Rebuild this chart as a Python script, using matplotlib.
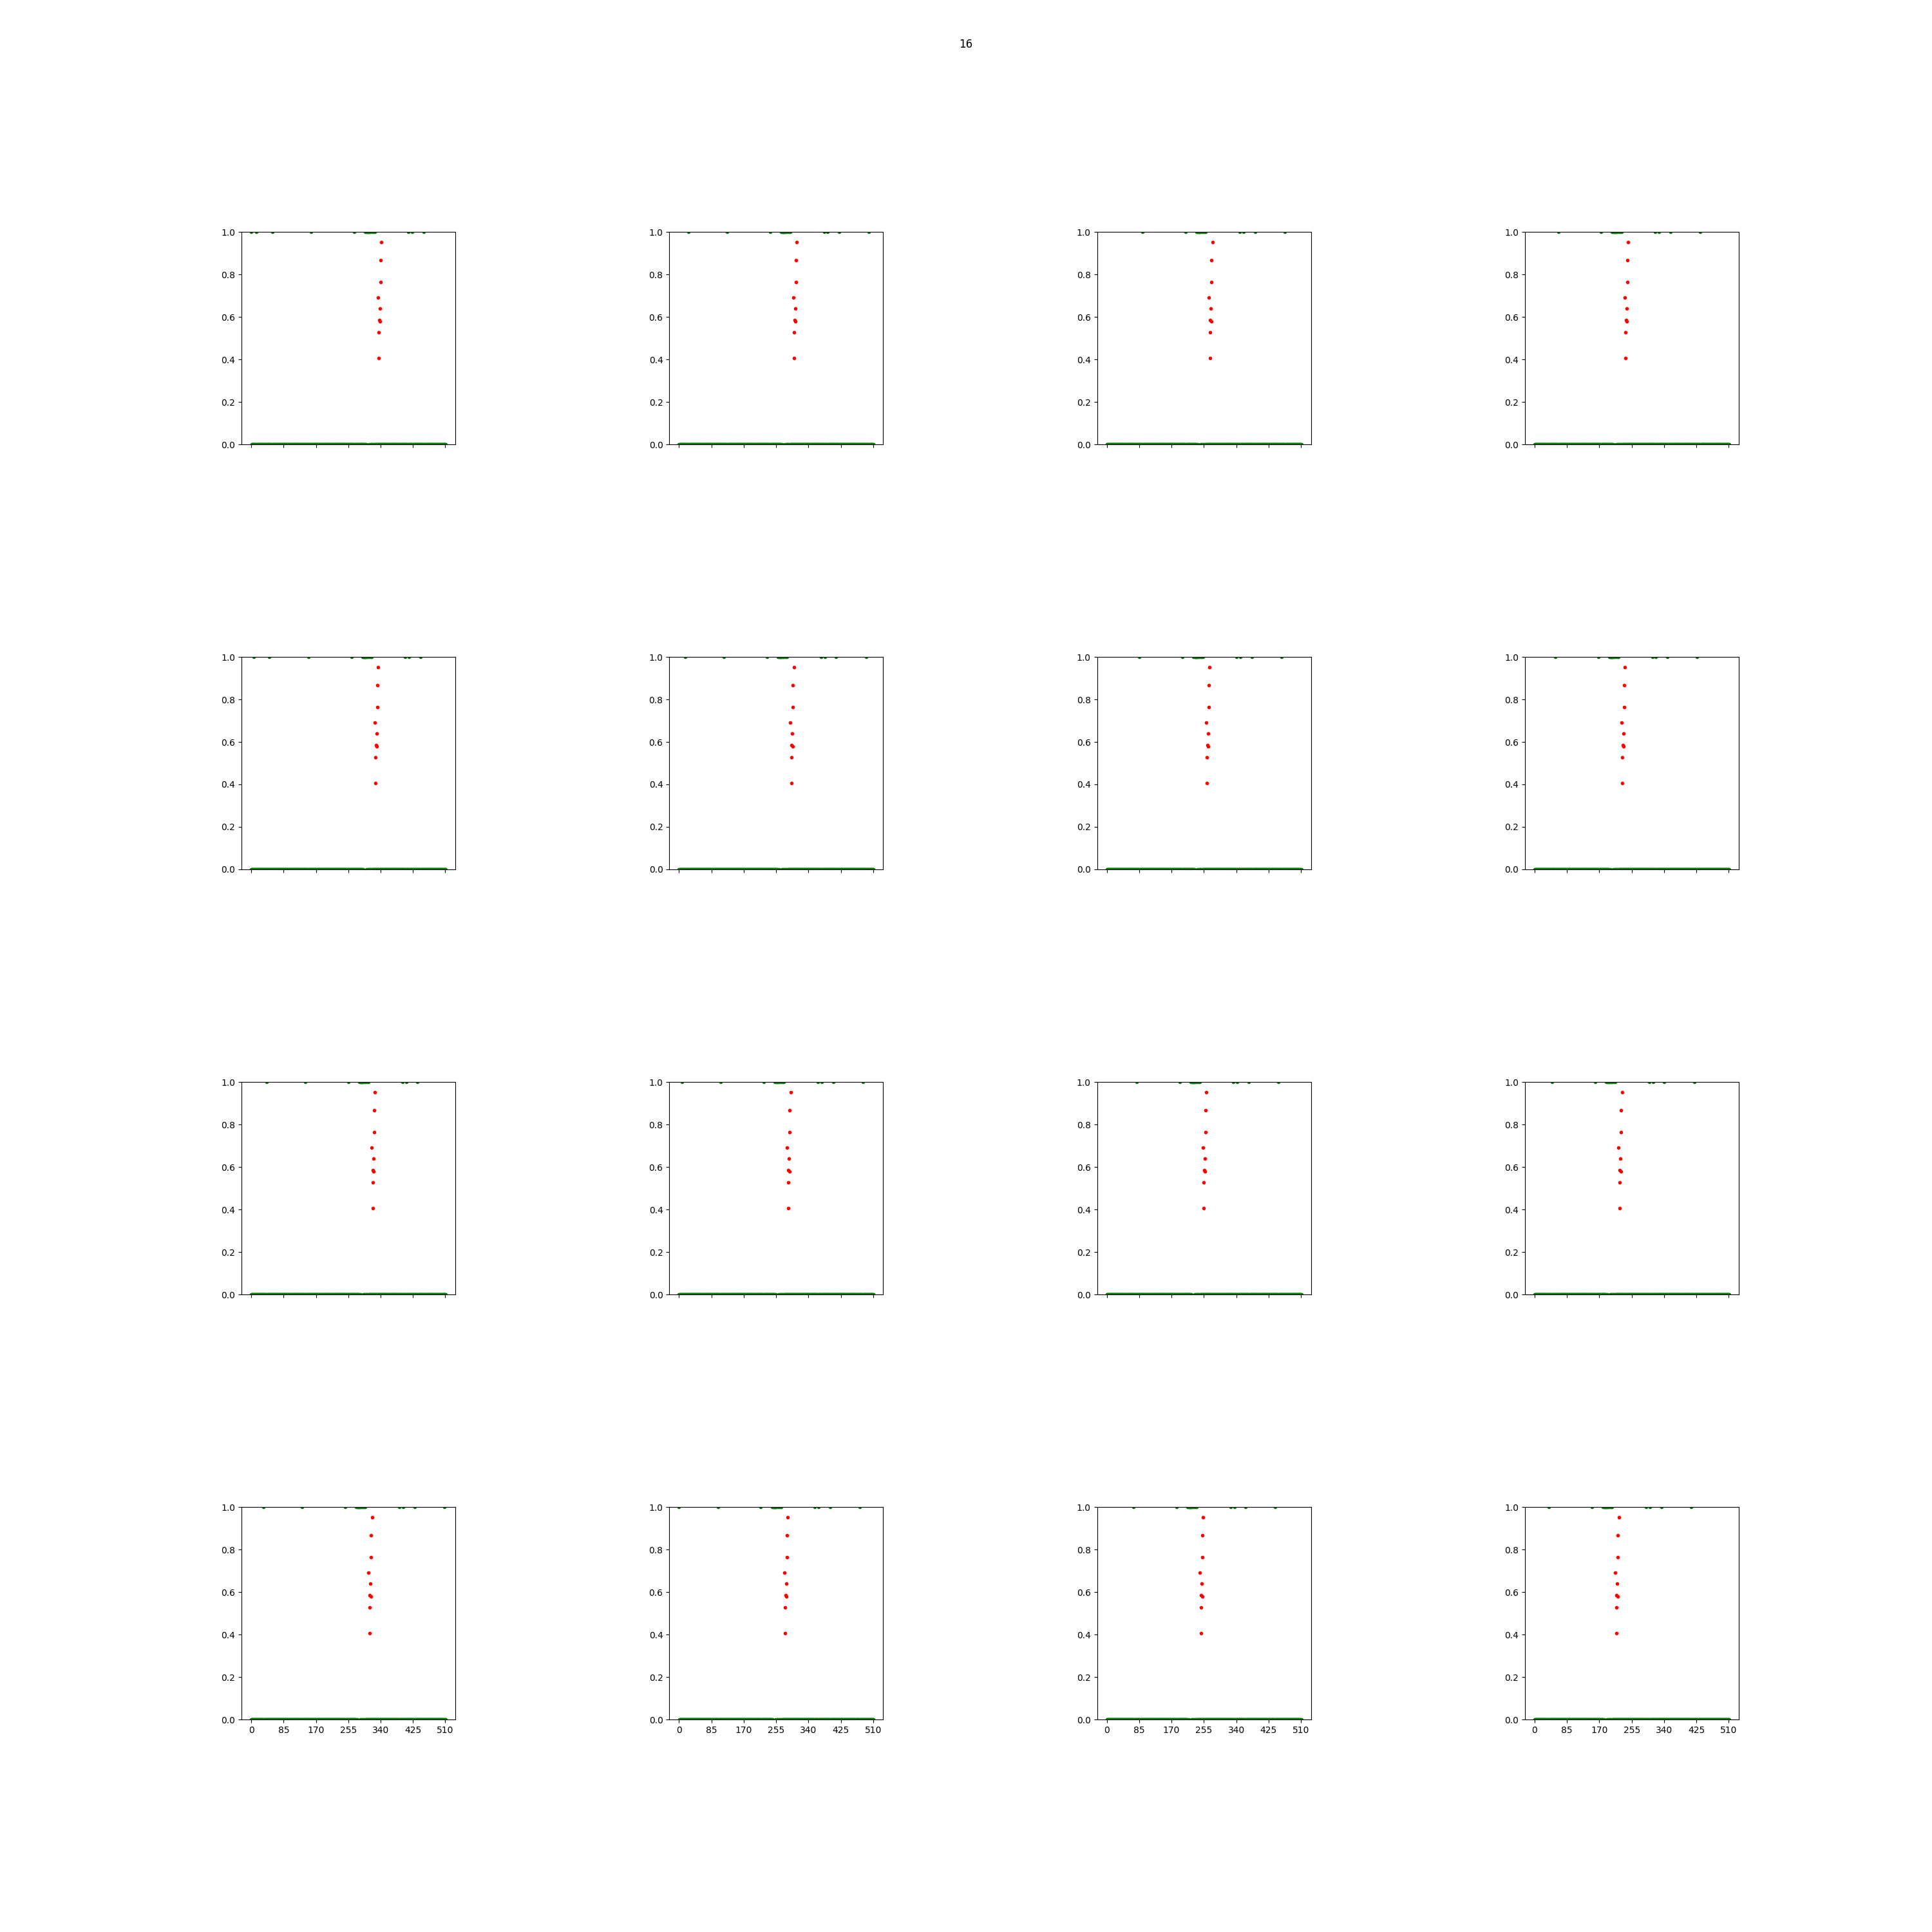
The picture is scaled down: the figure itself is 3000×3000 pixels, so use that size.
import numpy as np
import matplotlib
matplotlib.use("Agg")
import matplotlib.pyplot as plt

# ---------------- data ----------------
window_length = 512
# start of the 512-long window shown in each panel (panels ordered column by column)
panel_offsets = [0, 8, 16, 24, 32, 40, 48, 56, 64, 72, 80, 88, 96, 104, 112, 120]

# positions (in the full sequence) where the green label is 1
label_one_positions = [0, 14, 56, 158, 271,
                       300, 302, 304, 305, 306, 307, 308, 309, 311, 313, 316, 319, 322, 324,
                       413, 423, 453, 531]

# red points: position in the full sequence and value
red_positions = [341.5, 339.2, 339.2, 332.4, 337.5, 335.8, 338.2, 334.9, 334.9]
red_values = [0.952, 0.866, 0.763, 0.690, 0.639, 0.585, 0.578, 0.527, 0.405]

x_ticks = [0, 85, 170, 255, 340, 425, 510]
title = "16"

# ---------------- figure ----------------
fig, axes = plt.subplots(4, 4, figsize=(30, 30), dpi=100, sharex=True)
fig.subplots_adjust(wspace=1.0, hspace=1.0)
fig.suptitle(title)

ones = np.array(label_one_positions)
red_x = np.array(red_positions)
red_y = np.array(red_values)

for k, off in enumerate(panel_offsets):
    ax = axes[k % 4, k // 4]
    xs = np.arange(window_length)
    labels = np.isin(xs + off, ones).astype(float)
    ax.plot(xs, labels, "g.")
    ax.plot(red_x - off, red_y, "r.")
    ax.set_ylim(0, 1)
    ax.set_xticks(x_ticks)

fig.savefig("out.png", dpi=100)
